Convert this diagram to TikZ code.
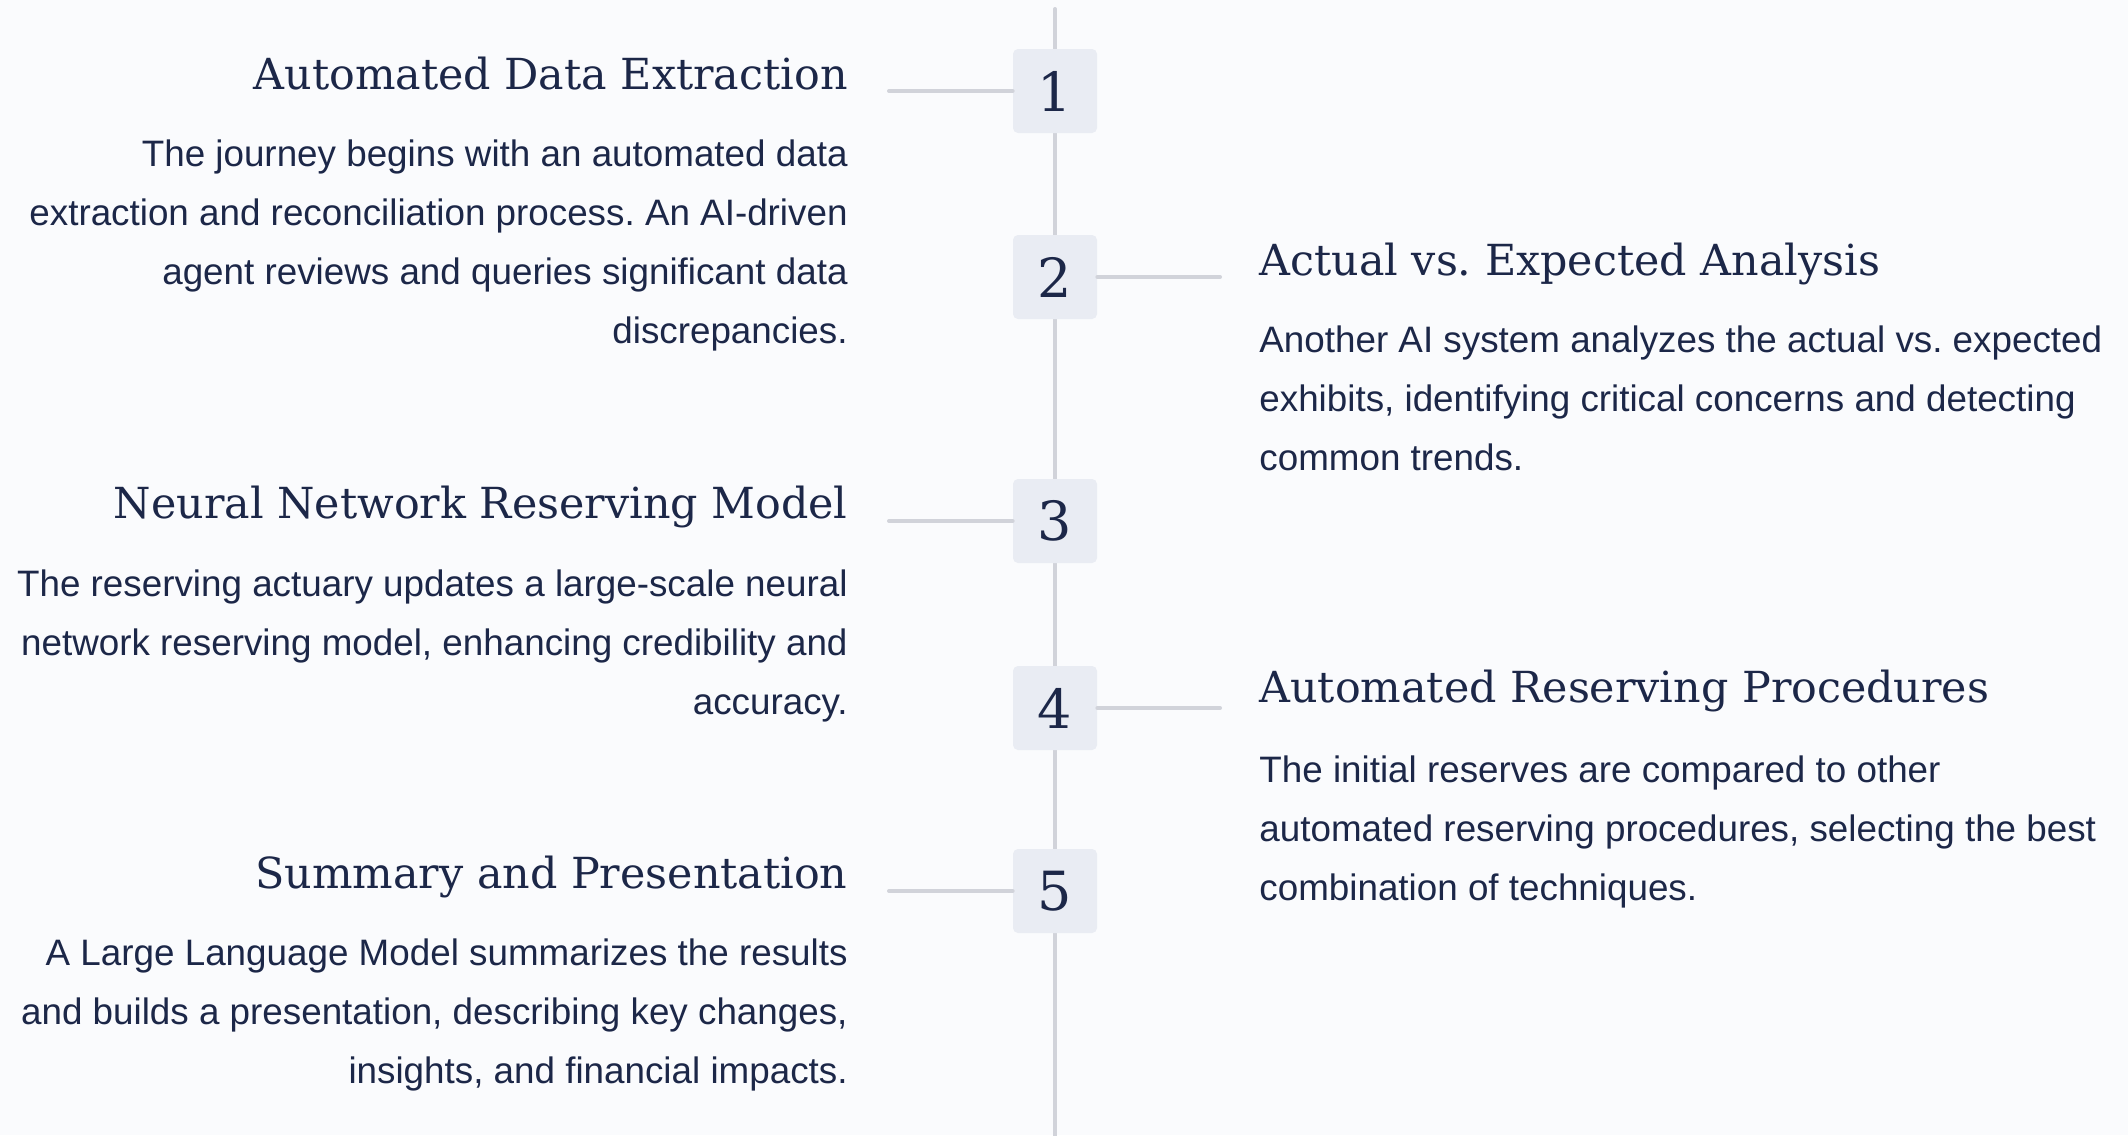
\documentclass[tikz,border=0pt]{standalone}
\usepackage{fontspec}
\setmainfont{Liberation Sans}
\newfontfamily\slabfont{DejaVu Serif}
\usetikzlibrary{positioning}
\frenchspacing

\definecolor{ink}{HTML}{1C2748}
\definecolor{railgray}{HTML}{D1D3DA}
\definecolor{stepfill}{HTML}{E9ECF3}
\definecolor{paper}{HTML}{FAFBFD}

\tikzset{
  stepnum/.style={fill=stepfill, rounded corners=2.5pt, minimum size=42pt,
    inner sep=0pt, text=ink, font=\slabfont\fontsize{27}{30}\selectfont},
  heading/.style={inner sep=0pt, text=ink, font=\slabfont\fontsize{21.4}{26}\selectfont},
  blurb/.style={inner sep=0pt, text=ink, font=\fontsize{18.4}{29.65}\selectfont},
  rail/.style={draw=railgray, line width=2pt, line cap=round},
}

\begin{document}
\begin{tikzpicture}[x=0.5pt, y=-0.5pt]
      \fill[paper] (0,0) rectangle (2128,1135);
      \useasboundingbox (0,0) rectangle (2128,1135);

      % the timeline itself
      \coordinate (top) at (1055,9);
      \coordinate (bot) at (1055,1140);
      \draw[rail] (top) -- (bot);

      % numbered steps
      \node[stepnum] (n1) at (1055,91) {1};
      \node[stepnum] (n2) at (1055,277) {2};
      \node[stepnum] (n3) at (1055,521) {3};
      \node[stepnum] (n4) at (1055,708) {4};
      \node[stepnum] (n5) at (1055,891) {5};

      % stubs out to the text
      \coordinate (s1) at (889,91);
      \coordinate (s2) at (1220,277);
      \coordinate (s3) at (889,521);
      \coordinate (s4) at (1220,708);
      \coordinate (s5) at (889,891);
      \begin{scope}[rail]
        \draw (n1.west) -- (s1);
        \draw (n2.east) -- (s2);
        \draw (n3.west) -- (s3);
        \draw (n4.east) -- (s4);
        \draw (n5.west) -- (s5);
      \end{scope}

      % left column (blurb tops sit one ascender above the first baseline)
      \node[heading, anchor=base east] (t1) at (848,89) {Automated Data Extraction};
      \node[blurb, anchor=north east, align=right] (b1) at (848,139)
        {The journey begins with an automated data\\
         extraction and reconciliation process. An AI-driven\\
         agent reviews and queries significant data\\
         discrepancies.};
      \node[heading, anchor=base east] (t3) at (848,518) {Neural Network Reserving Model};
      \node[blurb, anchor=north east, align=right] (b3) at (848,569)
        {The reserving actuary updates a large-scale neural\\
         network reserving model, enhancing credibility and\\
         accuracy.};
      \node[heading, anchor=base east] (t5) at (848,888) {Summary and Presentation};
      \node[blurb, anchor=north east, align=right] (b5) at (848,938)
        {A Large Language Model summarizes the results\\
         and builds a presentation, describing key changes,\\
         insights, and financial impacts.};

      % right column
      \node[heading, anchor=base west] (t2) at (1259,275) {Actual vs. Expected Analysis};
      \node[blurb, anchor=north west, align=left] (b2) at (1259,325)
        {Another AI system analyzes the actual vs. expected\\
         exhibits, identifying critical concerns and detecting\\
         common trends.};
      \node[heading, anchor=base west] (t4) at (1259,702) {Automated Reserving Procedures};
      \node[blurb, anchor=north west, align=left] (b4) at (1259,755)
        {The initial reserves are compared to other\\
         automated reserving procedures, selecting the best\\
         combination of techniques.};
    \end{tikzpicture}
\end{document}
